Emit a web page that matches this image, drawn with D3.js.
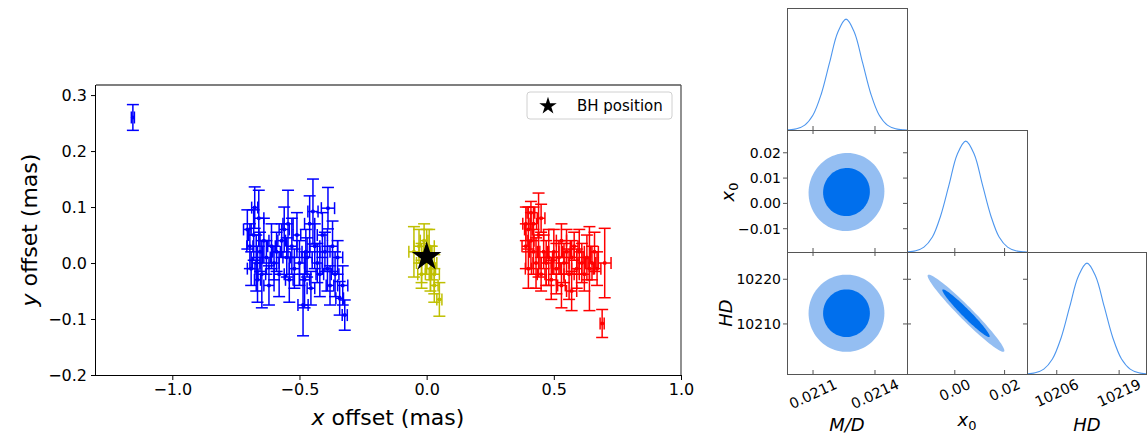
<!DOCTYPE html>
<html>
<head>
<meta charset="utf-8">
<script src="https://cdn.jsdelivr.net/npm/d3@7"></script>
<style>
  body { margin: 0; background: #fff; }
  text { font-family: "DejaVu Sans", sans-serif; }
</style>
</head>
<body>
<svg id="fig" width="1147" height="436"></svg>
<script>
// ---- offsets plot data (mas)
var blueX = [-1.155, -0.705, -0.695, -0.69, -0.68, -0.676, -0.67, -0.665,
             -0.66, -0.655, -0.648, -0.64, -0.63, -0.62, -0.61, -0.60,
             -0.59, -0.58, -0.57, -0.56, -0.55, -0.545, -0.54, -0.53,
             -0.52, -0.51, -0.50, -0.486, -0.48, -0.475, -0.47, -0.46,
             -0.455, -0.447, -0.44, -0.43, -0.42, -0.41, -0.40, -0.39,
             -0.388, -0.38, -0.37, -0.36, -0.35, -0.342, -0.33, -0.322];
var blueY = [0.26, 0.06, 0.03, -0.01, 0.05, 0.099, 0.00, -0.03,
             0.08, 0.02, -0.02, 0.04, 0.01, -0.04, 0.03, 0.00,
             0.02, -0.02, 0.04, 0.06, 0.01, 0.07, -0.03, 0.03,
             -0.01, 0.05, 0.00, -0.075, -0.03, 0.02, 0.01, 0.07,
             -0.045, 0.092, 0.03, 0.00, -0.02, 0.05, 0.02, -0.01,
             0.098, -0.04, 0.03, -0.02, 0.01, -0.063, -0.04, -0.093];
var blueEx = [0.006, 0.015, 0.012, 0.015, 0.02, 0.012, 0.015, 0.012,
              0.02, 0.01, 0.015, 0.02, 0.015, 0.02, 0.015, 0.02,
              0.015, 0.02, 0.015, 0.02, 0.015, 0.02, 0.015, 0.02,
              0.02, 0.015, 0.02, 0.02, 0.02, 0.015, 0.02, 0.02,
              0.015, 0.02, 0.02, 0.02, 0.015, 0.02, 0.02, 0.02,
              0.026, 0.015, 0.02, 0.015, 0.02, 0.015, 0.02, 0.01];
var blueEy = [0.023, 0.035, 0.04, 0.03, 0.045, 0.037, 0.05, 0.04,
              0.05, 0.035, 0.06, 0.04, 0.03, 0.035, 0.04, 0.03,
              0.035, 0.04, 0.03, 0.04, 0.035, 0.06, 0.04, 0.05,
              0.035, 0.04, 0.04, 0.055, 0.05, 0.04, 0.035, 0.05,
              0.03, 0.058, 0.04, 0.035, 0.04, 0.04, 0.035, 0.04,
              0.037, 0.035, 0.045, 0.04, 0.03, 0.03, 0.035, 0.027];

var yelX  = [-0.05, -0.03, -0.02, -0.01, 0.00, 0.01, 0.02, -0.02, 0.03, 0.03, 0.05, 0.015];
var yelY  = [0.02, 0.03, 0.00, 0.04, 0.02, 0.03, 0.00, -0.02, -0.02, -0.04, -0.065, -0.01];
var yelEx = [0.02, 0.02, 0.02, 0.015, 0.02, 0.02, 0.02, 0.015, 0.02, 0.015, 0.01, 0.02];
var yelEy = [0.045, 0.03, 0.035, 0.03, 0.04, 0.03, 0.03, 0.025, 0.035, 0.03, 0.03, 0.04];

var redX = [0.39, 0.39, 0.40, 0.40, 0.41, 0.41, 0.42, 0.42,
            0.43, 0.44, 0.45, 0.45, 0.46, 0.47, 0.48, 0.49,
            0.50, 0.51, 0.52, 0.53, 0.53, 0.54, 0.55, 0.56,
            0.57, 0.57, 0.58, 0.59, 0.60, 0.61, 0.62, 0.63,
            0.64, 0.65, 0.66, 0.67, 0.69, 0.70];
var redY = [0.07, 0.03, 0.06, -0.01, 0.09, 0.04, 0.02, 0.07,
            0.00, 0.05, 0.08, -0.02, 0.02, 0.00, 0.01, -0.03,
            0.02, -0.01, 0.01, -0.04, 0.04, 0.00, 0.02, -0.02,
            0.01, -0.05, 0.03, -0.01, 0.02, 0.00, -0.02, 0.01,
            -0.01, 0.00, 0.02, -0.01, -0.108, 0.00];
var redEx = [0.012, 0.015, 0.015, 0.012, 0.015, 0.012, 0.015, 0.012,
             0.012, 0.02, 0.015, 0.015, 0.015, 0.02, 0.015, 0.02,
             0.02, 0.015, 0.02, 0.015, 0.02, 0.02, 0.015, 0.02,
             0.02, 0.02, 0.015, 0.02, 0.02, 0.015, 0.02, 0.015,
             0.02, 0.015, 0.015, 0.015, 0.008, 0.025];
var redEy = [0.03, 0.04, 0.04, 0.035, 0.02, 0.05, 0.04, 0.03,
             0.045, 0.075, 0.025, 0.03, 0.03, 0.04, 0.05, 0.035,
             0.04, 0.045, 0.03, 0.04, 0.03, 0.035, 0.04, 0.045,
             0.03, 0.035, 0.025, 0.035, 0.04, 0.035, 0.03, 0.04,
             0.075, 0.03, 0.035, 0.03, 0.025, 0.062];

var bhX = [0.0];
var bhY = [0.011];

var offXTicks = [-1.0, -0.5, 0.0, 0.5, 1.0];
var offYTicks = [-0.2, -0.1, 0.0, 0.1, 0.2, 0.3];
var offXLim = [-1.3, 1.0];
var offYLim = [-0.2, 0.318];

// ---- corner plot data
var mdGrid = [0.02094, 0.02098, 0.02102, 0.02106, 0.02110, 0.02114, 0.02118, 0.02122, 0.02126,
              0.02130, 0.02134, 0.02138, 0.02142, 0.02146, 0.02150, 0.02154, 0.02158];
var x0Grid = [-0.0224, -0.0191, -0.0157, -0.0124, -0.0090, -0.0057, -0.0023, 0.0010, 0.0044,
              0.0078, 0.0111, 0.0145, 0.0178, 0.0212, 0.0245, 0.0279, 0.0312];
var hdGrid = [10197.9, 10199.7, 10201.5, 10203.3, 10205.1, 10206.9, 10208.7, 10210.5, 10212.3,
              10214.1, 10215.9, 10217.7, 10219.5, 10221.3, 10223.1, 10224.9, 10226.7];
var margDensity = [0.0003, 0.0015, 0.011, 0.044, 0.135, 0.325, 0.607, 0.882, 1.0,
                   0.882, 0.607, 0.325, 0.135, 0.044, 0.011, 0.0015, 0.0003];

var postMean  = [0.021262, 0.0045, 10212.4];   // M/D, x0, HD
var postSigma = [0.000075, 0.0063, 3.53];
var corrMDx0 = 0.02, corrMDHD = 0.0, corrX0HD = -0.97;
var contourLevels = [0.95, 0.68];

var mdLim = [0.020974, 0.021555];
var x0Lim = [-0.0192, 0.029];
var hdLimX = [10199.8, 10224.6];
var hdLimY = [10198.8, 10226.1];
var mdTicks = [0.0211, 0.0214];
var x0TicksX = [0.00, 0.02];
var x0TicksY = [-0.01, 0.00, 0.01, 0.02];
var hdTicksX = [10206, 10219];
var hdTicksY = [10210, 10220];

var svg = d3.select('#fig');
svg.append('rect').attr('width', 1147).attr('height', 436).attr('fill', '#fff');

// =================== offsets plot
var xs = d3.scaleLinear().domain(offXLim).range([96, 681]);
var ys = d3.scaleLinear().domain(offYLim).range([375, 85]);
var left = svg.append('g');

left.append('defs').append('clipPath').attr('id', 'offclip')
  .append('rect').attr('x', 96).attr('y', 85).attr('width', 585).attr('height', 290);

var plotArea = left.append('g').attr('clip-path', 'url(#offclip)');

function drawErr(xv, yv, exv, eyv, color) {
  var cap = 6;
  var pts = xv.map(function(x, i) { return {x: x, y: yv[i], ex: exv[i], ey: eyv[i]}; });
  var g = plotArea.append('g').attr('stroke', color).attr('stroke-width', 1.5).attr('fill', 'none');
  g.selectAll('line.v').data(pts).enter().append('line')
    .attr('x1', function(d) { return xs(d.x); }).attr('x2', function(d) { return xs(d.x); })
    .attr('y1', function(d) { return ys(d.y - d.ey); }).attr('y2', function(d) { return ys(d.y + d.ey); });
  g.selectAll('line.h').data(pts).enter().append('line')
    .attr('x1', function(d) { return xs(d.x - d.ex); }).attr('x2', function(d) { return xs(d.x + d.ex); })
    .attr('y1', function(d) { return ys(d.y); }).attr('y2', function(d) { return ys(d.y); });
  // caps
  [-1, 1].forEach(function(s) {
    g.selectAll('line.cy' + s).data(pts).enter().append('line')
      .attr('x1', function(d) { return xs(d.x) - cap; }).attr('x2', function(d) { return xs(d.x) + cap; })
      .attr('y1', function(d) { return ys(d.y + s * d.ey); }).attr('y2', function(d) { return ys(d.y + s * d.ey); });
    g.selectAll('line.cx' + s).data(pts).enter().append('line')
      .attr('x1', function(d) { return xs(d.x + s * d.ex); }).attr('x2', function(d) { return xs(d.x + s * d.ex); })
      .attr('y1', function(d) { return ys(d.y) - cap; }).attr('y2', function(d) { return ys(d.y) + cap; });
  });
  plotArea.append('g').selectAll('circle').data(pts).enter().append('circle')
    .attr('cx', function(d) { return xs(d.x); }).attr('cy', function(d) { return ys(d.y); })
    .attr('r', 2).attr('fill', color);
}

drawErr(blueX, blueY, blueEx, blueEy, '#0000ff');
drawErr(yelX, yelY, yelEx, yelEy, '#bfbf00');
drawErr(redX, redY, redEx, redEy, '#ff0000');

var star = d3.symbol().type(d3.symbolStar);
plotArea.selectAll('path.bh').data(bhX).enter().append('path')
  .attr('d', star.size(270)())
  .attr('transform', function(d, i) { return 'translate(' + xs(d) + ',' + ys(bhY[i]) + ')'; })
  .attr('fill', '#000');

// axes
var fmt1 = d3.format('.1f');
var xAxis = left.append('g').attr('transform', 'translate(0,375)')
  .call(d3.axisBottom(xs).tickValues(offXTicks).tickFormat(fmt1).tickSizeOuter(0).tickSize(5).tickPadding(4));
var yAxis = left.append('g').attr('transform', 'translate(96,0)')
  .call(d3.axisLeft(ys).tickValues(offYTicks).tickFormat(fmt1).tickSizeOuter(0).tickSize(5).tickPadding(4));
[xAxis, yAxis].forEach(function(a) {
  a.select('.domain').remove();
  a.selectAll('text').style('font-family', '"DejaVu Sans", sans-serif').style('font-size', '16px').attr('fill', '#000');
  a.selectAll('line').attr('stroke', '#000');
});

// frame
left.append('line').attr('x1', 96).attr('x2', 681).attr('y1', 85).attr('y2', 85).attr('stroke', '#555').attr('stroke-width', 1.3);
left.append('line').attr('x1', 681).attr('x2', 681).attr('y1', 85).attr('y2', 375).attr('stroke', '#555').attr('stroke-width', 1.3);
left.append('line').attr('x1', 96).attr('x2', 681).attr('y1', 375.5).attr('y2', 375.5).attr('stroke', '#000');
left.append('line').attr('x1', 95.5).attr('x2', 95.5).attr('y1', 85).attr('y2', 375).attr('stroke', '#000');

// axis labels
var xl = left.append('text').attr('x', 388).attr('y', 425).attr('text-anchor', 'middle').style('font-size', '22px');
xl.append('tspan').style('font-style', 'italic').text('x');
xl.append('tspan').text(' offset (mas)');
var yl = left.append('text').attr('transform', 'translate(37,230) rotate(-90)').attr('text-anchor', 'middle').style('font-size', '22px');
yl.append('tspan').style('font-style', 'italic').text('y');
yl.append('tspan').text(' offset (mas)');

// legend
var leg = left.append('g');
leg.append('rect').attr('x', 527).attr('y', 92).attr('width', 145).attr('height', 27).attr('rx', 3)
  .attr('fill', '#fff').attr('stroke', '#d0d0d0');
leg.append('path').attr('d', star.size(95)()).attr('transform', 'translate(548,106)').attr('fill', '#000');
leg.append('text').attr('x', 577).attr('y', 111).style('font-size', '15px').text('BH position');

// =================== corner plot
var colX = [787, 907, 1027, 1146];
var rowY = [8, 130, 252, 374];
var xLims = [mdLim, x0Lim, hdLimX];
var yLims = [null, x0Lim, hdLimY];
var xTickSets = [mdTicks, x0TicksX, hdTicksX];
var yTickSets = [null, x0TicksY, hdTicksY];
var xFmts = [d3.format('.4f'), d3.format('.2f'), d3.format('d')];
var grids = [mdGrid, x0Grid, hdGrid];
var corr = [[1, corrMDx0, corrMDHD], [corrMDx0, 1, corrX0HD], [corrMDHD, corrX0HD, 1]];
var lightBlue = '#94bef2', darkBlue = '#006fed';
var frameColor = '#555';
var corner = svg.append('g');
var defs = corner.append('defs');

function colScale(c) { return d3.scaleLinear().domain(xLims[c]).range([colX[c], colX[c + 1]]); }
function rowScale(r) { return d3.scaleLinear().domain(yLims[r]).range([rowY[r + 1], rowY[r]]); }

function xTickMarks(g, sx, ticks, y0, y1, both) {
  ticks.forEach(function(t) {
    g.append('line').attr('x1', sx(t)).attr('x2', sx(t)).attr('y1', y1).attr('y2', y1 - 4).attr('stroke', frameColor);
    if (both) g.append('line').attr('x1', sx(t)).attr('x2', sx(t)).attr('y1', y0).attr('y2', y0 + 4).attr('stroke', frameColor);
  });
}

for (var r = 0; r < 3; r++) {
  for (var c = 0; c <= r; c++) {
    var x0p = colX[c], x1p = colX[c + 1], y0p = rowY[r], y1p = rowY[r + 1];
    var id = 'pc' + r + c;
    defs.append('clipPath').attr('id', id).append('rect')
      .attr('x', x0p).attr('y', y0p).attr('width', x1p - x0p).attr('height', y1p - y0p);
    var g = corner.append('g');
    var inner = g.append('g').attr('clip-path', 'url(#' + id + ')');
    var sx = colScale(c);
    if (r === c) {
      var sy = d3.scaleLinear().domain([0, 1.1]).range([y1p, y0p]);
      var pts = grids[c].map(function(v, i) { return [v, margDensity[i]]; });
      inner.append('path').datum(pts)
        .attr('d', d3.line().x(function(d) { return sx(d[0]); }).y(function(d) { return sy(d[1]); }).curve(d3.curveCatmullRom))
        .attr('fill', 'none').attr('stroke', '#4d96ee').attr('stroke-width', 1.1);
      xTickMarks(g, sx, xTickSets[c], y0p, y1p, false);
    } else {
      var syr = rowScale(r);
      var rho = corr[c][r];
      contourLevels.forEach(function(p, li) {
        var k = Math.sqrt(-2 * Math.log(1 - p));
        var ring = d3.range(0, 90).map(function(i) {
          var t = i / 90 * 2 * Math.PI, u = Math.cos(t) * k, v = Math.sin(t) * k;
          return [postMean[c] + postSigma[c] * u,
                  postMean[r] + postSigma[r] * (rho * u + Math.sqrt(1 - rho * rho) * v)];
        });
        inner.append('path').datum(ring)
          .attr('d', d3.line().x(function(d) { return sx(d[0]); }).y(function(d) { return syr(d[1]); }).curve(d3.curveLinearClosed))
          .attr('fill', li === 0 ? lightBlue : darkBlue);
      });
      xTickMarks(g, sx, xTickSets[c], y0p, y1p, true);
      yTickSets[r].forEach(function(t) {
        if (c === 0) g.append('line').attr('x1', x0p).attr('x2', x0p - 4).attr('y1', syr(t)).attr('y2', syr(t)).attr('stroke', frameColor);
        else g.append('line').attr('x1', x0p).attr('x2', x0p + 4).attr('y1', syr(t)).attr('y2', syr(t)).attr('stroke', frameColor);
        g.append('line').attr('x1', x1p).attr('x2', x1p - 4).attr('y1', syr(t)).attr('y2', syr(t)).attr('stroke', frameColor);
      });
    }
    g.append('rect').attr('x', x0p + 0.5).attr('y', y0p + 0.5).attr('width', x1p - x0p).attr('height', y1p - y0p)
      .attr('fill', 'none').attr('stroke', frameColor).attr('stroke-width', 1);
  }
}

// bottom tick labels (rotated)
for (var c2 = 0; c2 < 3; c2++) {
  var sxc = colScale(c2);
  xTickSets[c2].forEach(function(t) {
    var txt = corner.append('text').style('font-size', '14.5px').attr('text-anchor', 'middle')
      .attr('dominant-baseline', 'central').text(xFmts[c2](t));
    var w = txt.node().getComputedTextLength();
    var ang = 25 * Math.PI / 180;
    var bh = w * Math.sin(ang) + 16 * Math.cos(ang);
    txt.attr('transform', 'translate(' + sxc(t) + ',' + (376 + bh / 2) + ') rotate(-25)');
  });
}
// left tick labels
[1, 2].forEach(function(r2) {
  var syl = rowScale(r2);
  var f = r2 === 1 ? d3.format('.2f') : d3.format('d');
  yTickSets[r2].forEach(function(t) {
    corner.append('text').attr('x', 781).attr('y', syl(t)).attr('text-anchor', 'end')
      .attr('dominant-baseline', 'central').style('font-size', '14px').text(f(t));
  });
});

// axis labels
corner.append('text').attr('x', 847).attr('y', 431).attr('text-anchor', 'middle').style('font-size', '18px')
  .style('font-style', 'italic').text('M/D');
var lab2 = corner.append('text').attr('x', 967).attr('y', 426).attr('text-anchor', 'middle').style('font-size', '18px');
lab2.append('tspan').style('font-style', 'italic').text('x');
lab2.append('tspan').attr('dy', 4).style('font-size', '13px').text('0');
corner.append('text').attr('x', 1087).attr('y', 431).attr('text-anchor', 'middle').style('font-size', '18px')
  .style('font-style', 'italic').text('HD');
var lab4 = corner.append('text').attr('transform', 'translate(734,192) rotate(-90)').attr('text-anchor', 'middle').style('font-size', '18px');
lab4.append('tspan').style('font-style', 'italic').text('x');
lab4.append('tspan').attr('dy', 4).style('font-size', '13px').text('0');
corner.append('text').attr('transform', 'translate(732,313) rotate(-90)').attr('text-anchor', 'middle').style('font-size', '18px')
  .style('font-style', 'italic').text('HD');
</script>
</body>
</html>
